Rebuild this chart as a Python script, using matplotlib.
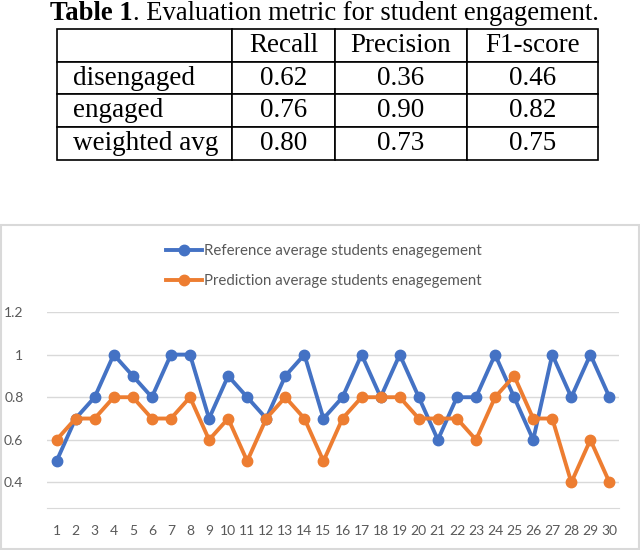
import matplotlib
matplotlib.use("Agg")
import matplotlib.pyplot as plt
from matplotlib.patches import Rectangle

# table data
col_labels = ["", "Recall", "Precision", "F1-score"]
row_labels = ["disengaged", "engaged", "weighted avg"]
recall = ["0.62", "0.76", "0.80"]
precision = ["0.36", "0.90", "0.73"]
f1 = ["0.46", "0.82", "0.75"]

# chart data
students = list(range(1, 31))
reference = [0.5, 0.7, 0.8, 1.0, 0.9, 0.8, 1.0, 1.0, 0.7, 0.9,
             0.8, 0.7, 0.9, 1.0, 0.7, 0.8, 1.0, 0.8, 1.0, 0.8,
             0.6, 0.8, 0.8, 1.0, 0.8, 0.6, 1.0, 0.8, 1.0, 0.8]
prediction = [0.6, 0.7, 0.7, 0.8, 0.8, 0.7, 0.7, 0.8, 0.6, 0.7,
              0.5, 0.7, 0.8, 0.7, 0.5, 0.7, 0.8, 0.8, 0.8, 0.7,
              0.7, 0.7, 0.6, 0.8, 0.9, 0.7, 0.7, 0.4, 0.6, 0.4]
yticks = [0.4, 0.6, 0.8, 1.0, 1.2]
ytick_labels = ["0.4", "0.6", "0.8", "1", "1.2"]

W, H = 640, 550
fig = plt.figure(figsize=(W / 100, H / 100), dpi=100)

def fx(px):
    return px / W

def fy(py):
    return 1 - py / H

# --- table caption ---
serif = "Liberation Serif"
t1 = fig.text(fx(50), fy(13), "Table 1", family=serif, weight="bold",
              fontsize=19.2, va="center", ha="left")
tax = fig.add_axes([0, 0, 1, 1])
tax.set_axis_off()
tax.annotate(". Evaluation metric for student engagement.", xy=(1, 0.5),
             xycoords=t1, va="center", ha="left", family=serif, fontsize=19.2)

# --- table ---
col_edges = [57, 232, 335, 467, 598]
row_edges = [29, 61, 94, 127, 160]
cells = [col_labels] + [[row_labels[i], recall[i], precision[i], f1[i]] for i in range(3)]
tbl = tax.table(cellText=cells, cellLoc="center",
                colWidths=[(col_edges[i + 1] - col_edges[i]) / W for i in range(4)],
                bbox=[fx(col_edges[0]), fy(row_edges[-1]),
                      fx(col_edges[-1]) - fx(col_edges[0]), (row_edges[-1] - row_edges[0]) / H])
tbl.auto_set_font_size(False)
for (r, c), cell in tbl.get_celld().items():
    cell.set_linewidth(1.2)
    cell.set_edgecolor("black")
    cell.get_text().set_fontsize(19.5)
    cell.get_text().set_family(serif)
    if c == 0:
        cell.get_text().set_ha("left")
        cell.PAD = 16 / (col_edges[1] - col_edges[0])

# --- chart frame ---
fig.patches.append(Rectangle((fx(1), fy(549)), fx(638), (549 - 225) / H,
                             transform=fig.transFigure, fill=False,
                             edgecolor="#d9d9d9", linewidth=1.5))

# --- line chart ---
font = "Lato"
ax = fig.add_axes([fx(47), fy(508), fx(619) - fx(47), (508 - 312) / H])
ax.plot(students, reference, color="#4472C4", linewidth=2.8, marker="o",
        markersize=7.5, label="Reference average students enagegement", zorder=3)
ax.plot(students, prediction, color="#ED7D31", linewidth=2.8, marker="o",
        markersize=7.5, label="Prediction average students enagegement", zorder=3)
ax.set_xlim(0.5, 30.5)
ax.set_ylim(0.28, 1.2)
ax.set_yticks(yticks)
ax.set_yticklabels(ytick_labels)
ax.set_xticks(students)
ax.set_xticklabels([str(s) for s in students])
ax.grid(axis="y", color="#d9d9d9", linewidth=1)
for s in ["top", "right", "left"]:
    ax.spines[s].set_visible(False)
ax.spines["bottom"].set_color("#d9d9d9")
ax.tick_params(length=0, colors="#595959", labelsize=10)
ax.tick_params(axis="y", pad=17)
ax.tick_params(axis="x", pad=12)
for lab in ax.get_xticklabels() + ax.get_yticklabels():
    lab.set_family(font)

leg = fig.legend(loc="center", bbox_to_anchor=(fx(324), fy(266)), ncol=1,
                 frameon=False, prop={"family": font, "size": 10.8},
                 handlelength=2.4, handletextpad=0.1, labelspacing=1.05,
                 labelcolor="#595959")

fig.savefig("out.png", dpi=100)
